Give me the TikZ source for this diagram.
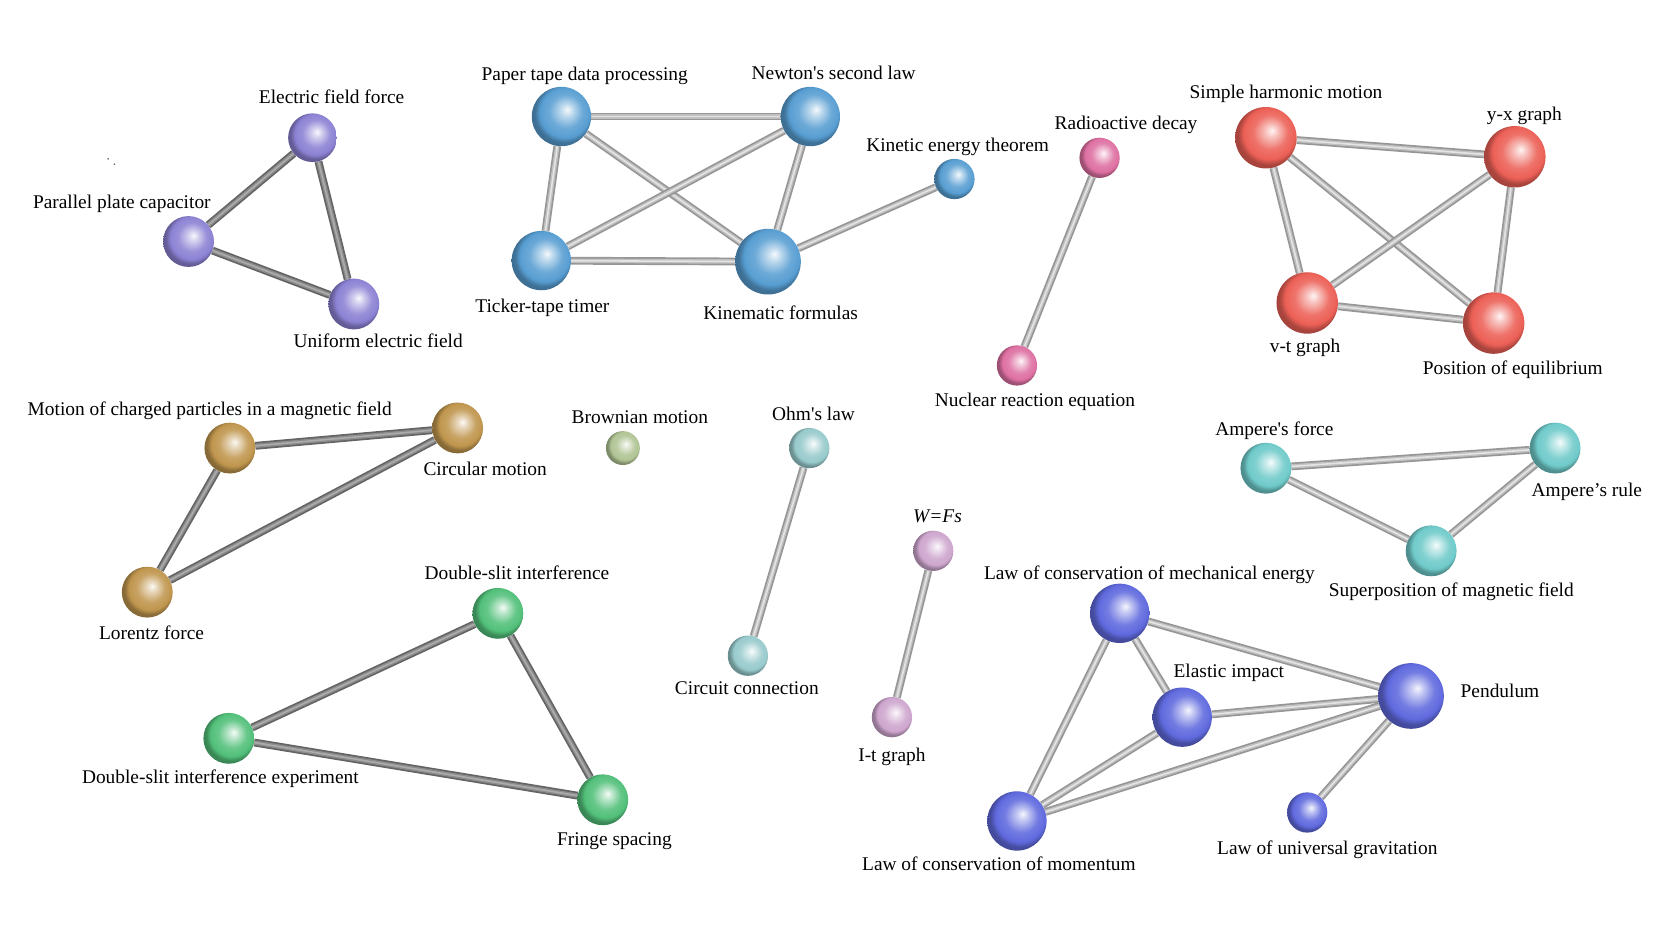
\documentclass[tikz,border=0pt]{standalone}
\usepackage{fontspec}
\setmainfont{Liberation Serif}
\usetikzlibrary{backgrounds}
\definecolor{cPurple}{RGB}{140,130,212}
\definecolor{cBlue}{RGB}{88,158,210}
\definecolor{cPink}{RGB}{222,112,162}
\definecolor{cRed}{RGB}{236,96,86}
\definecolor{cGold}{RGB}{192,150,78}
\definecolor{cOlive}{RGB}{176,196,148}
\definecolor{cOhm}{RGB}{152,202,204}
\definecolor{cLilac}{RGB}{206,166,206}
\definecolor{cGreen}{RGB}{82,192,122}
\definecolor{cCyan}{RGB}{112,202,202}
\definecolor{cViolet}{RGB}{96,106,222}
\definecolor{tubeDo}{RGB}{100,100,100}
\definecolor{tubeDm}{RGB}{140,140,140}
\definecolor{tubeDh}{RGB}{172,172,172}
\definecolor{tubeLo}{RGB}{150,150,150}
\definecolor{tubeLm}{RGB}{192,192,192}
\definecolor{tubeLh}{RGB}{228,228,228}
\colorlet{sphcol}{gray}
\pgfdeclareradialshading[sphcol]{sphere}{\pgfqpoint{5bp}{6bp}}{%
  color(0bp)=(sphcol!6!white);
  color(5bp)=(sphcol!38!white);
  color(14bp)=(sphcol!88!white);
  color(21bp)=(sphcol);
  color(25bp)=(sphcol!72!black);
  color(50bp)=(sphcol!50!black)}
\tikzset{
  sph/.style={circle, inner sep=0pt, /utils/exec={\colorlet{sphcol}{#1}}, shade, shading=sphere},
  lbl/.style={font=\fontsize{18.3}{20}\selectfont, inner sep=0pt, text height=12pt, text depth=4pt, anchor=center, yshift=-2pt},
  tubeD/.style={draw=tubeDm, line width=4.2pt, preaction={draw=tubeDo, line width=7.4pt}, postaction={draw=tubeDh, line width=1.5pt}},
  tubeL/.style={draw=tubeLm, line width=4.2pt, preaction={draw=tubeLo, line width=7.4pt}, postaction={draw=tubeLh, line width=1.5pt}},
}
\begin{document}
\begin{tikzpicture}[x=1pt,y=-1pt]
\useasboundingbox (0,0) rectangle (1568,882);

% purple group
\node[sph=cPurple, minimum size=46pt] (eff) at (295,130) {};
\node[sph=cPurple, minimum size=48pt] (ppc) at (178,228) {};
\node[sph=cPurple, minimum size=48pt] (uef) at (334,287) {};
\node[lbl] (effl) at (313,92) {Electric field force};
\node[lbl] (ppcl) at (115,191) {Parallel plate capacitor};
\node[lbl] (uefl) at (357,322) {Uniform electric field};
\fill[black!70] (102,150) circle (0.8pt) (108,155) circle (0.8pt);

% blue group
\node[sph=cBlue, minimum size=56pt] (ptd) at (530,110) {};
\node[sph=cBlue, minimum size=56pt] (nsl) at (765,110) {};
\node[sph=cBlue, minimum size=56pt] (ttt) at (511,246) {};
\node[sph=cBlue, minimum size=62pt] (kf) at (725,247) {};
\node[sph=cBlue, minimum size=38pt] (ket) at (901,169) {};
\node[lbl] (ptdl) at (552,70) {Paper tape data processing};
\node[lbl] (nsll) at (787,69) {Newton\textquotesingle s second law};
\node[lbl] (tttl) at (512,289) {Ticker-tape timer};
\node[lbl] (kfl) at (737,296) {Kinematic formulas};
\node[lbl] (ketl) at (904,137) {Kinetic energy theorem};

% pink group
\node[sph=cPink, minimum size=38pt] (rd) at (1038,149) {};
\node[sph=cPink, minimum size=38pt] (nre) at (960,345) {};
\node[lbl] (rdl) at (1063,116) {Radioactive decay};
\node[lbl] (nrel) at (977,378) {Nuclear reaction equation};

% red group
\node[sph=cRed, minimum size=58pt] (shm) at (1195,130) {};
\node[sph=cRed, minimum size=58pt] (yx) at (1430,148) {};
\node[sph=cRed, minimum size=58pt] (vt) at (1234,286) {};
\node[sph=cRed, minimum size=58pt] (pe) at (1410,305) {};
\node[lbl] (shml) at (1214,87) {Simple harmonic motion};
\node[lbl] (yxl) at (1439,108) {y-x graph};
\node[lbl] (vtl) at (1232,327) {v-t graph};
\node[lbl] (pel) at (1428,348) {Position of equilibrium};

% gold group
\node[sph=cGold, minimum size=48pt] (mcp) at (217,423) {};
\node[sph=cGold, minimum size=48pt] (cm) at (432,404) {};
\node[sph=cGold, minimum size=48pt] (lf) at (139,559) {};
\node[lbl] (mcpl) at (198,386) {Motion of charged particles in a magnetic field};
\node[lbl] (cml) at (458,443) {Circular motion};
\node[lbl] (lfl) at (143,598) {Lorentz force};

% singles / pairs
\node[sph=cOlive, minimum size=32pt] (bm) at (588,423) {};
\node[lbl] (bml) at (604,394) {Brownian motion};
\node[sph=cOhm, minimum size=38pt] (ohm) at (764,423) {};
\node[sph=cOhm, minimum size=38pt] (cc) at (706,619) {};
\node[lbl] (ohml) at (768,391) {Ohm\textquotesingle s law};
\node[lbl] (ccl) at (705,650) {Circuit connection};
\node[sph=cLilac, minimum size=38pt] (wfs) at (881,520) {};
\node[sph=cLilac, minimum size=38pt] (itg) at (842,677) {};
\node[lbl] (wfsl) at (885,487) {\itshape W=Fs};
\node[lbl] (itgl) at (842,713) {I-t graph};

% green group
\node[sph=cGreen, minimum size=48pt] (dsi) at (470,579) {};
\node[sph=cGreen, minimum size=48pt] (dse) at (216,697) {};
\node[sph=cGreen, minimum size=48pt] (fs) at (569,755) {};
\node[lbl] (dsil) at (488,541) {Double-slit interference};
\node[lbl] (dsel) at (208,734) {Double-slit interference experiment};
\node[lbl] (fsl) at (580,792) {Fringe spacing};

% cyan group
\node[sph=cCyan, minimum size=48pt] (af) at (1195,442) {};
\node[sph=cCyan, minimum size=48pt] (ar) at (1468,423) {};
\node[sph=cCyan, minimum size=48pt] (smf) at (1351,520) {};
\node[lbl] (afl) at (1203,405) {Ampere\textquotesingle s force};
\node[lbl] (arl) at (1498,463) {Ampere’s rule};
\node[lbl] (smfl) at (1370,557) {Superposition of magnetic field};

% violet group
\node[sph=cViolet, minimum size=56pt] (lcme) at (1057,579) {};
\node[sph=cViolet, minimum size=56pt] (ei) at (1116,677) {};
\node[sph=cViolet, minimum size=62pt] (pen) at (1332,657) {};
\node[sph=cViolet, minimum size=56pt] (lcm) at (960,775) {};
\node[sph=cViolet, minimum size=38pt] (lug) at (1234,767) {};
\node[lbl] (lcmel) at (1085,541) {Law of conservation of mechanical energy};
\node[lbl] (eil) at (1160,634) {Elastic impact};
\node[lbl] (penl) at (1416,652) {Pendulum};
\node[lbl] (lcml) at (943,816) {Law of conservation of momentum};
\node[lbl] (lugl) at (1253,801) {Law of universal gravitation};

\begin{pgfonlayer}{background}
\draw[tubeD] (eff) -- (ppc);
\draw[tubeD] (eff) -- (uef);
\draw[tubeD] (ppc) -- (uef);

\draw[tubeL] (ptd) -- (nsl);
\draw[tubeL] (ptd) -- (ttt);
\draw[tubeL] (ptd) -- (kf);
\draw[tubeL] (nsl) -- (ttt);
\draw[tubeL] (nsl) -- (kf);
\draw[tubeL] (ttt) -- (kf);
\draw[tubeL] (kf) -- (ket);

\draw[tubeL] (rd) -- (nre);

\draw[tubeL] (shm) -- (yx);
\draw[tubeL] (shm) -- (vt);
\draw[tubeL] (shm) -- (pe);
\draw[tubeL] (yx) -- (vt);
\draw[tubeL] (yx) -- (pe);
\draw[tubeL] (vt) -- (pe);

\draw[tubeD] (mcp) -- (cm);
\draw[tubeD] (mcp) -- (lf);
\draw[tubeD] (cm) -- (lf);

\draw[tubeL] (ohm) -- (cc);
\draw[tubeL] (wfs) -- (itg);

\draw[tubeD] (dsi) -- (dse);
\draw[tubeD] (dsi) -- (fs);
\draw[tubeD] (dse) -- (fs);

\draw[tubeL] (af) -- (ar);
\draw[tubeL] (af) -- (smf);
\draw[tubeL] (ar) -- (smf);

\draw[tubeL] (lcme) -- (ei);
\draw[tubeL] (lcme) -- (pen);
\draw[tubeL] (lcme) -- (lcm);
\draw[tubeL] (ei) -- (pen);
\draw[tubeL] (ei) -- (lcm);
\draw[tubeL] (pen) -- (lcm);
\draw[tubeL] (pen) -- (lug);
\end{pgfonlayer}
\end{tikzpicture}
\end{document}
